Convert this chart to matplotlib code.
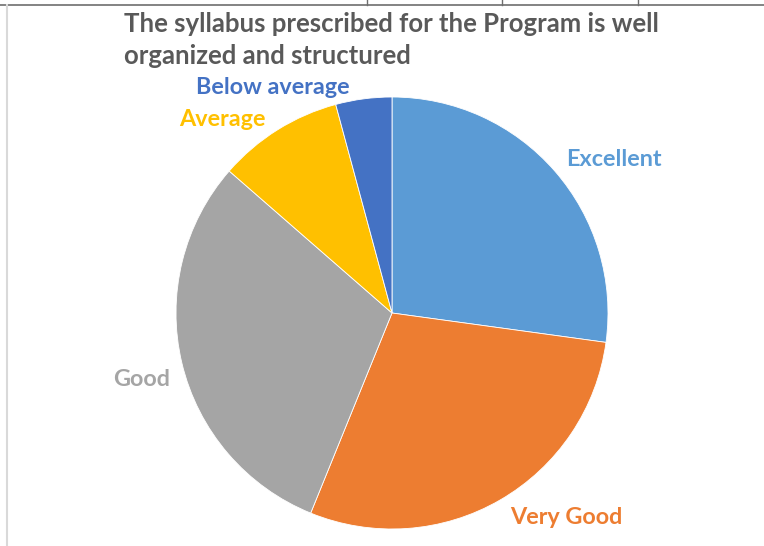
import matplotlib.pyplot as plt

# share of responses (%)
categories = ["Excellent", "Very Good", "Good", "Average", "Below average"]
shares = [27.2, 29.0, 30.3, 9.4, 4.2]
colors = ["#5B9BD5", "#ED7D31", "#A5A5A5", "#FFC000", "#4472C4"]

# label placement in pixel coords (x, y from top)
label_pos = [(614, 159), (566, 518), (142, 380), (222, 120), (273, 88)]

W, H = 764, 546
fig = plt.figure(figsize=(W / 100, H / 100), dpi=100)
ax = fig.add_axes([0, 0, 1, 1])
ax.set_xlim(0, W)
ax.set_ylim(0, H)
ax.set_aspect("equal")
ax.axis("off")

ax.pie(shares, colors=colors, startangle=90, counterclock=False,
       center=(392, H - 313), radius=216,
       wedgeprops=dict(edgecolor="white", linewidth=0.6))
ax.set_xlim(0, W)
ax.set_ylim(0, H)

for name, col, (x, y) in zip(categories, colors, label_pos):
    ax.text(x, H - y, name, color=col, fontsize=16.8, fontweight="bold",
            family="Lato", ha="center", va="center")

ax.text(124, H - 12, "The syllabus prescribed for the Program is well\norganized and structured",
        color="#595959", fontsize=18.5, fontweight="bold", family="Lato",
        ha="left", va="top", linespacing=1.42)

# bits of the surrounding sheet frame
ax.plot([0, W], [H - 4.5, H - 4.5], color="#6e6e6e", lw=1.2)
for tx in [367, 502, 638]:
    ax.plot([tx, tx], [H, H - 4.5], color="#6e6e6e", lw=1)
ax.plot([7, 7], [0, H - 5], color="#d9d9d9", lw=1.5)

fig.savefig("out.png", dpi=100)
